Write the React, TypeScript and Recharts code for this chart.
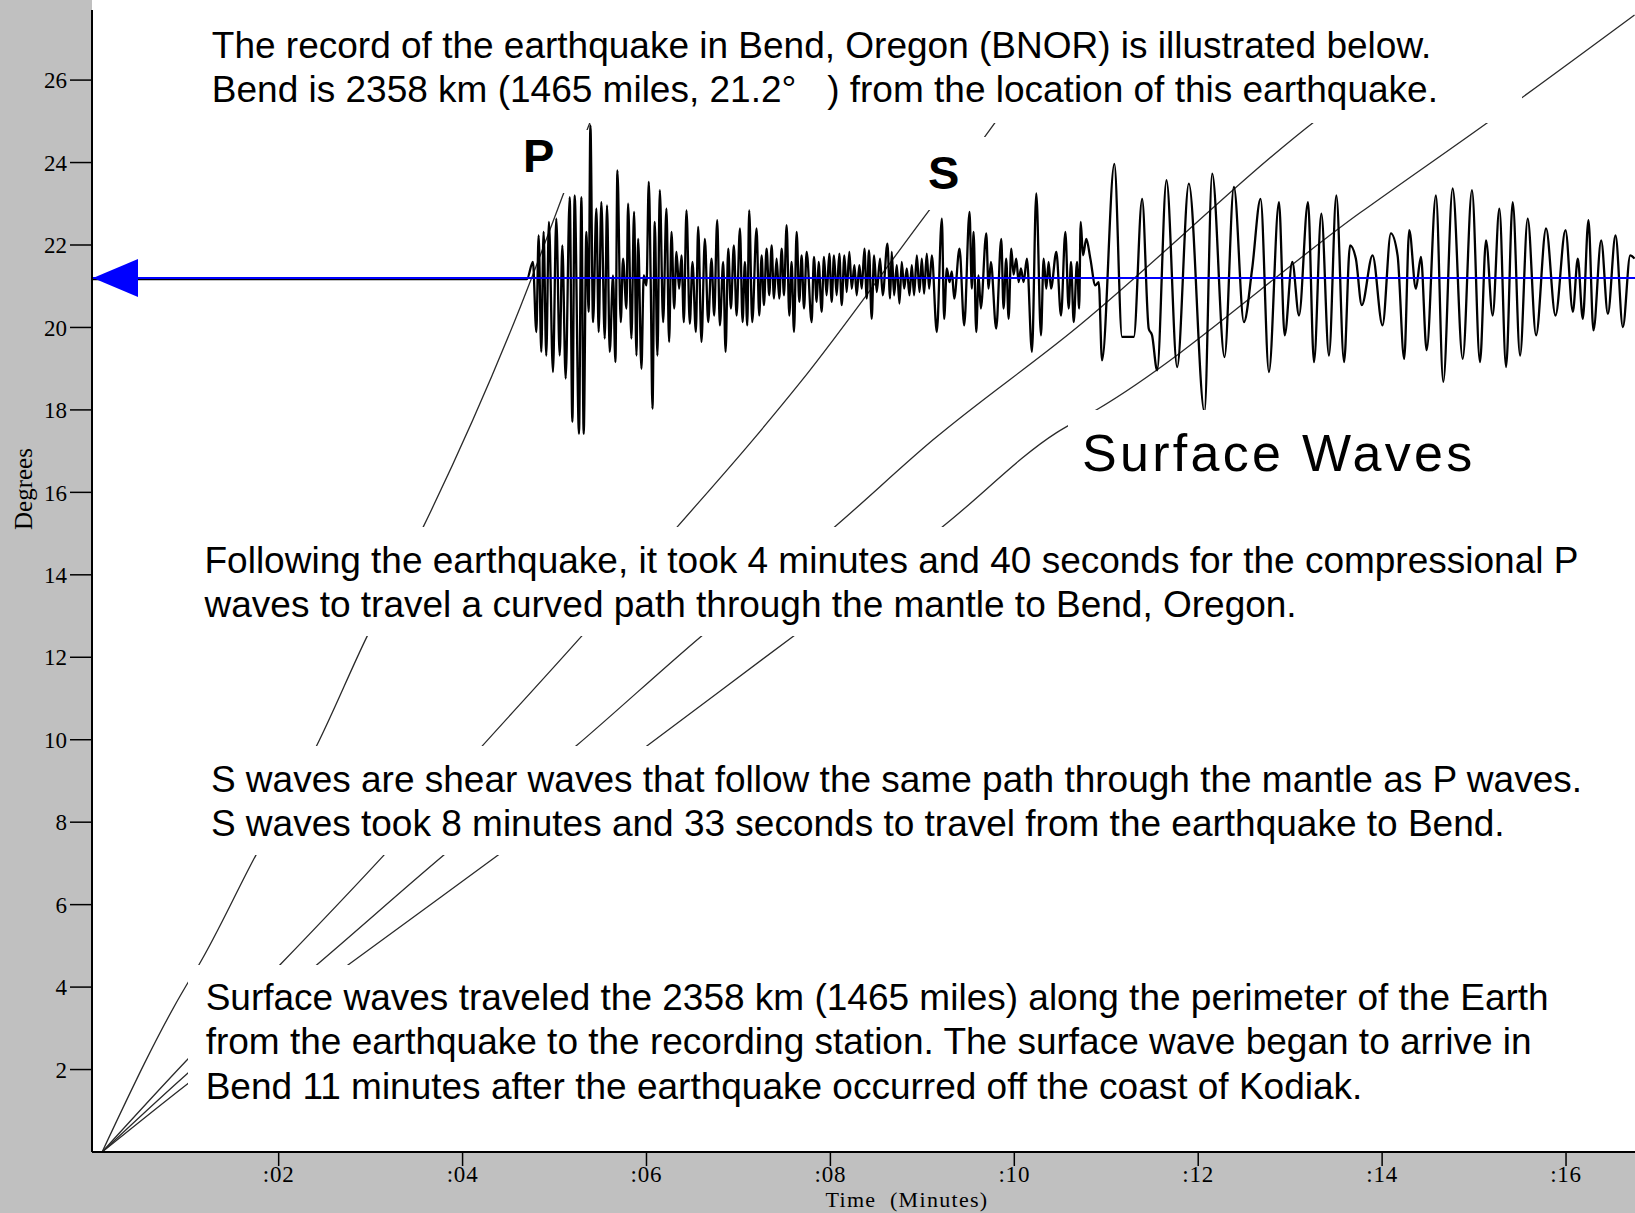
import { CartesianGrid, Line, LineChart, XAxis, YAxis } from 'recharts';

// -----------------------------------------------------------------------------
// Data: minutes after the earthquake (x) and distance in degrees (y)
// -----------------------------------------------------------------------------

type Pt = [number, number];

const STATION_DEG = 21.2; // Bend, Oregon (BNOR)
const TIME_RANGE: [number, number] = [-0.03, 16.75];
const DEG_RANGE: [number, number] = [0, 27.7];

const timeTicks = [2, 4, 6, 8, 10, 12, 14, 16];
const degreeTicks = [2, 4, 6, 8, 10, 12, 14, 16, 18, 20, 22, 24, 26];

// travel-time curves [minutes, degrees]
const pCurve: Pt[] = [
  [0.08, 0], [0.99, 4.02], [1.13, 4.53], [1.75, 7.19], [2.41, 9.84], [2.96, 12.5],
  [3.57, 15.15], [4.63, 20.51], [5.1, 23.26], [5.38, 24.94], [5.5, 25.6],
];
const sCurve: Pt[] = [
  [0.08, 0], [0.99, 2.2], [2.01, 4.53], [3.14, 7.19], [4.21, 9.84], [5.29, 12.5],
  [6.33, 15.15], [7.16, 17.28], [7.67, 18.66], [9.08, 22.86], [9.68, 24.63], [9.8, 25.0],
];
const loveCurve: Pt[] = [
  [0.08, 0], [0.99, 1.87], [2.41, 4.53], [3.79, 7.19], [5.23, 9.84], [6.59, 12.5],
  [8.04, 15.15], [9.12, 17.28], [10.61, 19.87], [13.29, 25.04], [13.5, 25.4],
];
const rayleighCurve: Pt[] = [
  [0.08, 0], [0.99, 1.62], [2.75, 4.53], [4.38, 7.19], [6.0, 9.84], [7.59, 12.5],
  [9.21, 15.15], [10.46, 17.45], [10.9, 18.01], [13.76, 22.78], [15.19, 25.04], [16.745, 27.58],
];

// BNOR seismogram, [minutes, deflection in degrees about the station line]
const trace: Pt[] = [
  [-0.03, -0.03], [4.7, -0.03],
  [4.765, 0.39], [4.802, -1.31], [4.827, 1.03], [4.856, -1.79], [4.881, 1.12], [4.91, -1.88],
  [4.939, 1.36], [4.983, -2.28], [5.019, 1.44], [5.056, -1.88], [5.085, 0.79], [5.121, -2.44],
  [5.165, 1.96], [5.194, -3.49], [5.219, 2.0], [5.266, -3.78], [5.292, 1.96], [5.317, -3.78],
  [5.346, 1.12], [5.371, -0.82], [5.39, 3.7], [5.419, -1.07], [5.455, 1.68], [5.48, -1.31],
  [5.509, 1.84], [5.546, -1.47], [5.571, 1.76], [5.6, -1.79], [5.636, 0.06], [5.662, -2.04],
  [5.684, 2.61], [5.72, -1.07], [5.745, 0.47], [5.782, -0.74], [5.8, 1.8], [5.836, -1.47],
  [5.865, 1.6], [5.891, -1.88], [5.909, 0.95], [5.945, -2.2], [5.97, 0.06], [6.0, -0.18],
  [6.025, 2.33], [6.047, -0.26], [6.065, -3.17], [6.09, 1.36], [6.119, -1.88], [6.145, 2.13],
  [6.181, -1.07], [6.217, 1.68], [6.246, -1.55], [6.272, 1.12], [6.301, -0.74], [6.326, 0.63],
  [6.355, -0.26], [6.381, 0.55], [6.406, -1.07], [6.435, 1.64], [6.471, -1.11], [6.5, 0.39],
  [6.537, -1.31], [6.562, 1.24], [6.598, -1.55], [6.635, 0.95], [6.671, -1.07], [6.707, 0.47],
  [6.736, -0.91], [6.769, 1.4], [6.798, -1.15], [6.834, 0.39], [6.86, -1.79], [6.889, 0.71],
  [6.918, -0.74], [6.95, 0.79], [6.98, -0.91], [7.016, 1.2], [7.045, -1.07], [7.07, 0.39],
  [7.096, -1.15], [7.117, 1.64], [7.15, -1.07], [7.197, 1.2], [7.226, -0.91], [7.252, 0.55],
  [7.277, -0.66], [7.306, 0.71], [7.335, -0.42], [7.361, 0.79], [7.386, -0.5], [7.415, 0.47],
  [7.444, -0.5], [7.47, 0.71], [7.495, -0.42], [7.524, 1.28], [7.553, -0.91], [7.578, 0.39],
  [7.604, -1.31], [7.633, 1.12], [7.662, -0.58],
  [7.687, 0.55], [7.713, -0.74], [7.742, 0.63], [7.796, -1.07], [7.821, 0.51], [7.851, -0.58],
  [7.872, 0.39], [7.905, -0.82], [7.93, 0.51], [7.959, -0.42], [7.988, 0.59], [8.014, -0.58],
  [8.039, 0.55], [8.068, -0.42], [8.097, 0.59], [8.123, -0.66], [8.152, 0.55], [8.177, -0.34],
  [8.206, 0.63], [8.232, -0.26], [8.261, 0.31], [8.286, -0.42], [8.315, 0.31], [8.341, -0.26],
  [8.37, 0.71], [8.395, -0.5], [8.42, 0.67], [8.449, -0.99], [8.475, 0.55], [8.504, -0.34],
  [8.54, 0.47], [8.569, -0.42], [8.62, 0.83], [8.649, -0.5], [8.667, 0.63], [8.693, -0.42],
  [8.722, 0.31], [8.751, -0.62], [8.776, 0.39], [8.802, -0.26], [8.831, 0.23], [8.86, -0.42],
  [8.885, 0.31], [8.91, -0.42], [8.94, 0.55], [8.969, -0.34], [8.994, 0.47], [9.019, -0.38],
  [9.048, 0.59], [9.074, -0.26], [9.103, 0.55], [9.157, -1.31], [9.212, 1.44], [9.237, -0.99],
  [9.266, 0.23], [9.295, -0.1], [9.321, 0.16], [9.346, -0.5], [9.404, 0.71], [9.455, -1.15],
  [9.513, 1.6], [9.538, -0.26], [9.557, 1.12], [9.586, -1.31], [9.611, 0.06], [9.636, -0.74],
  [9.695, 1.08], [9.72, -0.26], [9.745, 0.39], [9.803, -1.23], [9.858, 0.95], [9.883, -0.74],
  [9.912, 0.47], [9.938, -0.99], [9.967, 0.71], [9.992, 0.08], [10.021, 0.47], [10.047, -0.1],
  [10.072, 0.23], [10.101, -0.1], [10.137, 0.47], [10.192, -1.79], [10.239, 2.05], [10.29, -1.39],
  [10.319, 0.47], [10.348, -0.26], [10.373, 0.39], [10.399, -0.26], [10.457, 0.63], [10.508, -0.91],
  [10.555, 1.12], [10.591, -0.74], [10.617, 0.39], [10.646, -1.07], [10.682, 0.39], [10.705, -0.74],
  [10.722, 1.36], [10.747, 0.55], [10.783, 0.95], [10.827, 0.47], [10.881, -0.18], [10.918, -0.1],
  [10.954, -2.0], [11.088, 2.77], [11.172, -1.43], [11.299, -1.43], [11.39, 1.92], [11.462, -1.23],
  [11.498, -1.39], [11.553, -2.24], [11.655, 2.37], [11.771, -2.16], [11.898, 2.29], [12.068, -3.25],
  [12.152, 2.53], [12.286, -1.92], [12.388, 2.21], [12.497, -1.07], [12.587, 0.23], [12.678, 1.92],
  [12.769, -2.28], [12.878, 1.84], [12.94, -1.39], [13.023, 0.39], [13.096, -0.91], [13.194, 1.84],
  [13.259, -2.04], [13.339, 1.56], [13.422, -1.88], [13.502, 2.0], [13.586, -2.04], [13.651, 0.79],
  [13.714, 0.47], [13.779, -0.66], [13.896, 0.55], [14.004, -1.15], [14.095, 1.08], [14.168, 0.55],
  [14.24, -1.96], [14.295, 1.16], [14.367, -0.26], [14.422, 0.51], [14.484, -1.75], [14.585, 2.0],
  [14.665, -2.52], [14.767, 2.17], [14.876, -1.96], [14.977, 2.13], [15.064, -2.04], [15.13, 0.91],
  [15.202, -0.91], [15.275, 1.68], [15.348, -2.16], [15.42, 1.84], [15.5, -1.88], [15.583, 1.44],
  [15.674, -1.39], [15.783, 1.2], [15.885, -0.91], [15.994, 1.16], [16.074, -0.82], [16.128, 0.47],
  [16.182, -0.99], [16.244, 1.4], [16.298, -1.27], [16.382, 0.91], [16.455, -0.87], [16.538, 1.03],
  [16.618, -1.19], [16.698, 0.55], [16.745, 0.47],
];

const headerLines = [
  'The record of the earthquake in Bend, Oregon (BNOR) is illustrated below.',
  'Bend is 2358 km (1465 miles, 21.2\u00b0\u00a0\u00a0\u00a0) from the location of this earthquake.',
];
const pLines = [
  'Following the earthquake, it took 4 minutes and 40 seconds for the compressional P',
  'waves to travel a curved path through the mantle to Bend, Oregon.',
];
const sLines = [
  'S waves are shear waves that follow the same path through the mantle as P waves.',
  'S waves took 8 minutes and 33 seconds to travel from the earthquake to Bend.',
];
const surfaceLines = [
  'Surface waves traveled the 2358 km (1465 miles) along the perimeter of the Earth',
  'from the earthquake to the recording station. The surface wave began to arrive in',
  'Bend 11 minutes after the earthquake occurred off the coast of Kodiak.',
];

// -----------------------------------------------------------------------------
// Helpers
// -----------------------------------------------------------------------------

const toRows = (pts: Pt[]) => pts.map(([t, deg]) => ({ t, deg }));
const traceRows = trace.map(([t, a]) => ({ t, deg: STATION_DEG + a }));
const stationRows = TIME_RANGE.map((t) => ({ t, deg: STATION_DEG }));

const W = 1635;
const H = 1213;
const GRAY = '#c0c0c0';
const SANS = '"Liberation Sans", Arial, Helvetica, sans-serif';
const SERIF = '"Liberation Serif", "Times New Roman", serif';

const yTickStyle = { fontSize: 23, fontFamily: SERIF, fill: '#000' };
const xTickStyle = { fontSize: 23, fontFamily: SERIF, fill: '#000', letterSpacing: 0.8 };
const curveStyle = { stroke: '#2a2a2a', strokeWidth: 1.3 };

type BoxProps = {
  box: [number, number, number, number]; // left, top, width, height
  at: [number, number]; // text left, text top
  size: number;
  lh: number;
  lines: string[];
  bold?: boolean;
  spacing?: number;
};

const TextBox: React.FC<BoxProps> = ({ box, at, size, lh, lines, bold, spacing }) => {
  const [l, t, w, h] = box;
  return (
    <div style={{ position: 'absolute', left: l, top: t, width: w, height: h, background: '#fff' }}>
      <div
        style={{
          position: 'absolute',
          left: at[0] - l,
          top: at[1] - t,
          fontFamily: SANS,
          fontSize: size,
          lineHeight: `${lh}px`,
          fontWeight: bold ? 700 : 400,
          letterSpacing: spacing ?? 0,
          whiteSpace: 'pre',
          color: '#000',
        }}
      >
        {lines.map((s) => (
          <div key={s}>{s}</div>
        ))}
      </div>
    </div>
  );
};

// arrow head at the left end of the station line
// eslint-disable-next-line @typescript-eslint/no-explicit-any
const arrowDot = (props: any) => {
  const { cx, cy, index } = props as { cx: number; cy: number; index: number };
  if (index !== 0) return <g key={`d${index}`} />;
  return (
    <polygon
      key="arrow"
      points={`${cx + 1},${cy} ${cx + 46},${cy - 19} ${cx + 46},${cy + 19}`}
      fill="#0000ff"
      stroke="none"
    />
  );
};

// -----------------------------------------------------------------------------
// Component
// -----------------------------------------------------------------------------

export default function App() {
  return (
    <div style={{ position: 'relative', width: W, height: H, background: '#fff', overflow: 'hidden' }}>
      <style>{'body{margin:0}'}</style>
      <div style={{ position: 'absolute', left: 0, top: 0, width: 92, height: H, background: GRAY }} />
      <div style={{ position: 'absolute', left: 0, top: 1152, width: W, height: H - 1152, background: GRAY }} />

      <div style={{ position: 'absolute', left: 0, top: 0 }}>
        <LineChart width={W} height={H} margin={{ top: 10, right: 0, bottom: 0, left: 0 }}>
          <CartesianGrid horizontal={false} vertical={false} fill="#fff" />
          <XAxis
            type="number"
            dataKey="t"
            domain={TIME_RANGE}
            allowDataOverflow
            ticks={timeTicks}
            tickFormatter={(v: number) => `:${String(v).padStart(2, '0')}`}
            height={61}
            axisLine={{ stroke: '#000', strokeWidth: 2 }}
            tickLine={{ stroke: '#000', strokeWidth: 1.5 }}
            tickSize={14}
            tickMargin={0}
            tick={xTickStyle}
            label={() => (
              <text
                x={907}
                y={1207}
                textAnchor="middle"
                fontFamily={SERIF}
                fontSize={22}
                letterSpacing={1.3}
                fill="#000"
              >
                {'Time\u00a0\u00a0(Minutes)'}
              </text>
            )}
          />
          <YAxis
            type="number"
            domain={DEG_RANGE}
            allowDataOverflow
            ticks={degreeTicks}
            width={92}
            axisLine={{ stroke: '#000', strokeWidth: 2 }}
            tickLine={{ stroke: '#000', strokeWidth: 1.5 }}
            tickSize={22}
            tickMargin={3}
            tick={yTickStyle}
            label={() => (
              <text
                x={23}
                y={489}
                transform="rotate(-90 23 489)"
                textAnchor="middle"
                dominantBaseline="central"
                fontFamily={SERIF}
                fontSize={25}
                fill="#000"
              >
                Degrees
              </text>
            )}
          />

          <Line data={toRows(pCurve)} dataKey="deg" type="monotone" dot={false} {...curveStyle} isAnimationActive={false} />
          <Line data={toRows(sCurve)} dataKey="deg" type="monotone" dot={false} {...curveStyle} isAnimationActive={false} />
          <Line data={toRows(loveCurve)} dataKey="deg" type="monotone" dot={false} {...curveStyle} isAnimationActive={false} />
          <Line data={toRows(rayleighCurve)} dataKey="deg" type="monotone" dot={false} {...curveStyle} isAnimationActive={false} />

          <Line data={traceRows} dataKey="deg" type="monotone" dot={false} stroke="#000" strokeWidth={2.3} isAnimationActive={false} />
          <Line data={stationRows} dataKey="deg" type="linear" dot={arrowDot} stroke="#0000ff" strokeWidth={2} isAnimationActive={false} />
        </LineChart>
      </div>

      <TextBox box={[190, 0, 1332, 123]} at={[211.8, 23.5]} size={37} lh={44.8} lines={headerLines} />
      <TextBox box={[520, 130, 68, 63]} at={[523, 131.9]} size={47} lh={47} lines={['P']} bold />
      <TextBox box={[920, 137, 70, 73]} at={[928, 149.2]} size={47} lh={47} lines={['S']} bold />
      <TextBox box={[1068, 410, 420, 70]} at={[1082, 427]} size={52} lh={52} lines={['Surface Waves']} spacing={3.3} />
      <TextBox box={[188, 527, 1440, 109]} at={[204.5, 539.1]} size={37} lh={43.8} lines={pLines} />
      <TextBox box={[188, 746, 1440, 109]} at={[210.9, 758.1]} size={37} lh={43.7} lines={sLines} />
      <TextBox box={[188, 965, 1440, 160]} at={[205.7, 975.5]} size={37} lh={44.8} lines={surfaceLines} />
    </div>
  );
}
